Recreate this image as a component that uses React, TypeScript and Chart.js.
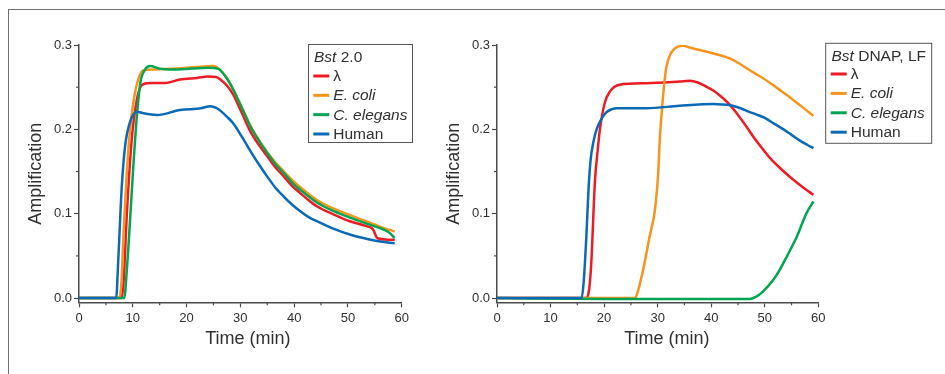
import React, { useEffect, useRef } from 'react';
import { Chart, registerables } from 'chart.js';

Chart.register(...registerables);

const FONT = '"Liberation Sans", Arial, Helvetica, sans-serif';
const AXIS_COLOR = '#4a4a4a';
const TEXT_COLOR = '#303030';

const X_TICKS = [0, 10, 20, 30, 40, 50, 60];
const X_MINOR = [5, 15, 25, 35, 45, 55];
const Y_TICKS = [0, 0.1, 0.2, 0.3];
const Y_MINOR = [0.05, 0.15, 0.25];

const SERIES_NAMES = ['λ', 'E. coli', 'C. elegans', 'Human'];
const SERIES_ITALIC = [false, true, true, false];
const COLORS = ['#ED1C24', '#F7941D', '#00A651', '#0A6AB5'];

// ---- Bst 2.0 panel ----
const BST20_LAMBDA_T = [0, 7.9, 8.3, 8.9, 9.8, 10.75, 11.7, 13.2, 16, 18.8, 22, 24, 25.5, 26.5, 27.5, 28.7, 30.3, 31.9, 33.5, 35, 36.5, 38.1, 39.6, 41.2, 42.7, 44.3, 47.4, 50.5, 53.6, 54.6, 55.5, 58.7];
const BST20_LAMBDA_V = [0, 0, 0.02, 0.1, 0.1875, 0.235, 0.2527, 0.255, 0.255, 0.259, 0.261, 0.2626, 0.262, 0.258, 0.252, 0.241, 0.219, 0.197, 0.181, 0.168, 0.155, 0.144, 0.133, 0.124, 0.116, 0.1085, 0.099, 0.0908, 0.085, 0.082, 0.071, 0.069];

const BST20_ECOLI_T = [0, 7.5, 7.9, 8.3, 8.9, 9.5, 10.1, 11, 12, 14, 18, 22, 25, 26, 27.5, 28.7, 30.3, 31.9, 33.5, 35, 36.5, 38.1, 39.6, 41.2, 44.3, 47.4, 50.5, 53.6, 56.7, 58.7];
const BST20_ECOLI_V = [0, 0, 0.02, 0.08, 0.15, 0.2, 0.232, 0.259, 0.27, 0.271, 0.272, 0.274, 0.275, 0.272, 0.261, 0.247, 0.226, 0.204, 0.187, 0.173, 0.161, 0.15, 0.14, 0.131, 0.116, 0.106, 0.098, 0.0905, 0.083, 0.079];

const BST20_CELEGANS_T = [0, 8.4, 8.9, 9.5, 10.1, 10.75, 11.4, 12.3, 13.2, 15, 17, 21, 24, 25.8, 27.3, 28.7, 30.3, 31.9, 33.5, 35, 36.5, 38.1, 39.6, 41.2, 44.3, 47.4, 50.5, 53.6, 56.7, 57.8, 58.7];
const BST20_CELEGANS_V = [0, 0, 0.034, 0.093, 0.156, 0.215, 0.255, 0.271, 0.275, 0.272, 0.271, 0.272, 0.273, 0.272, 0.262, 0.247, 0.225, 0.203, 0.186, 0.172, 0.159, 0.148, 0.137, 0.128, 0.113, 0.103, 0.095, 0.088, 0.081, 0.077, 0.071];

const BST20_HUMAN_T = [0, 6.9, 7.33, 7.95, 8.57, 9.5, 10.75, 12, 14.5, 18.8, 22.7, 24.4, 25.5, 26.5, 27.5, 28.7, 30.3, 31.9, 33.5, 35, 36.5, 38.1, 39.6, 41.2, 42.7, 44.3, 47.4, 50.5, 53.6, 56, 58.7];
const BST20_HUMAN_V = [0, 0, 0.049, 0.132, 0.18, 0.209, 0.221, 0.219, 0.217, 0.223, 0.225, 0.2275, 0.2255, 0.221, 0.215, 0.207, 0.191, 0.174, 0.158, 0.144, 0.131, 0.12, 0.111, 0.1026, 0.096, 0.091, 0.082, 0.075, 0.07, 0.067, 0.065];

// ---- Bst DNAP, LF panel ----
const LF_LAMBDA_T = [0, 16.7, 17.2, 17.6, 18.3, 18.8, 19.2, 20.1, 21.1, 22.9, 27.9, 34.1, 36, 37.5, 39, 40.4, 42, 43.5, 45, 46.6, 48, 49.7, 51, 52.8, 54.5, 56, 57.5, 59.1];
const LF_LAMBDA_V = [0, 0, 0.01, 0.041, 0.14, 0.175, 0.199, 0.231, 0.245, 0.253, 0.2547, 0.2567, 0.2575, 0.2555, 0.251, 0.246, 0.238, 0.229, 0.217, 0.203, 0.19, 0.176, 0.166, 0.1545, 0.1448, 0.137, 0.1295, 0.1224];

const LF_ECOLI_T = [0, 25.8, 26.3, 27.3, 28.5, 29.5, 30.1, 30.4, 30.9, 31.3, 31.65, 32.3, 32.9, 33.8, 34.8, 36, 37.3, 40.4, 43.5, 45, 46.6, 48, 49.7, 51.2, 52.8, 54.5, 56, 57.5, 59.1];
const LF_ECOLI_V = [0, 0, 0.008, 0.034, 0.073, 0.105, 0.148, 0.188, 0.231, 0.258, 0.2745, 0.288, 0.294, 0.298, 0.299, 0.297, 0.295, 0.29, 0.284, 0.279, 0.2725, 0.267, 0.2606, 0.254, 0.2468, 0.239, 0.2315, 0.224, 0.216];

const LF_CELEGANS_T = [0, 20, 47.2, 48.5, 49.7, 51.6, 52.8, 54.1, 56, 57.8, 59.1];
const LF_CELEGANS_V = [0, -0.001, -0.001, 0.002, 0.008, 0.0217, 0.0335, 0.049, 0.073, 0.1007, 0.1145];

const LF_HUMAN_T = [0, 15.8, 16.2, 16.7, 17.1, 17.5, 18, 18.6, 19.3, 20.4, 21.5, 22.3, 27.9, 34.1, 40.4, 42, 44, 45.5, 47, 48.5, 50, 51.8, 53.5, 55, 56.5, 58, 59.1];
const LF_HUMAN_V = [0, 0, 0.02, 0.075, 0.13, 0.165, 0.185, 0.2, 0.21, 0.22, 0.224, 0.225, 0.225, 0.228, 0.23, 0.2295, 0.228, 0.225, 0.221, 0.2175, 0.2135, 0.2065, 0.2, 0.1935, 0.187, 0.1815, 0.1777];

type Series = { t: number[]; v: number[] };
type LegendCfg = {
  box: [number, number, number, number];
  titleParts: { text: string; italic: boolean }[];
  titleX: number;
  titleY: number;
  lineX0: number;
  lineX1: number;
  textX: number;
  rowY0: number;
  rowStep: number;
};

const PANEL1_SERIES: Series[] = [
  { t: BST20_LAMBDA_T, v: BST20_LAMBDA_V },
  { t: BST20_ECOLI_T, v: BST20_ECOLI_V },
  { t: BST20_CELEGANS_T, v: BST20_CELEGANS_V },
  { t: BST20_HUMAN_T, v: BST20_HUMAN_V },
];
const PANEL2_SERIES: Series[] = [
  { t: LF_LAMBDA_T, v: LF_LAMBDA_V },
  { t: LF_ECOLI_T, v: LF_ECOLI_V },
  { t: LF_CELEGANS_T, v: LF_CELEGANS_V },
  { t: LF_HUMAN_T, v: LF_HUMAN_V },
];

const decorPlugin = {
  id: 'decor',
  afterDraw(chart: any, _args: any, opts: any) {
    const ctx = chart.ctx as CanvasRenderingContext2D;
    const { left, right, bottom } = chart.chartArea;
    const xs = chart.scales.x;
    const ys = chart.scales.y;
    ctx.save();
    // minor ticks
    ctx.strokeStyle = AXIS_COLOR;
    ctx.lineWidth = 1.2;
    X_MINOR.forEach((v) => {
      const px = xs.getPixelForValue(v);
      ctx.beginPath();
      ctx.moveTo(px, bottom);
      ctx.lineTo(px, bottom + 3);
      ctx.stroke();
    });
    Y_MINOR.forEach((v) => {
      const py = ys.getPixelForValue(v);
      ctx.beginPath();
      ctx.moveTo(left, py);
      ctx.lineTo(left - 3, py);
      ctx.stroke();
    });
    // x title
    ctx.fillStyle = TEXT_COLOR;
    ctx.font = `18px ${FONT}`;
    ctx.textAlign = 'center';
    ctx.textBaseline = 'alphabetic';
    ctx.fillText('Time (min)', (left + right) / 2 + opts.xTitleShift, opts.xTitleY);
    // legend
    const lg: LegendCfg = opts.legend;
    const [bx, by, bw, bh] = lg.box;
    ctx.fillStyle = '#ffffff';
    ctx.fillRect(bx, by, bw, bh);
    ctx.strokeStyle = '#555555';
    ctx.lineWidth = 1;
    ctx.strokeRect(bx, by, bw, bh);
    ctx.textAlign = 'left';
    ctx.fillStyle = TEXT_COLOR;
    let tx = lg.titleX;
    lg.titleParts.forEach((p) => {
      ctx.font = `${p.italic ? 'italic ' : ''}15.5px ${FONT}`;
      ctx.fillText(p.text, tx, lg.titleY);
      tx += ctx.measureText(p.text).width;
    });
    SERIES_NAMES.forEach((name, i) => {
      const y = lg.rowY0 + i * lg.rowStep;
      ctx.strokeStyle = COLORS[i];
      ctx.lineWidth = 3;
      ctx.beginPath();
      ctx.moveTo(lg.lineX0, y);
      ctx.lineTo(lg.lineX1, y);
      ctx.stroke();
      ctx.fillStyle = TEXT_COLOR;
      ctx.font = `${SERIES_ITALIC[i] ? 'italic ' : ''}15.5px ${FONT}`;
      ctx.fillText(name, lg.textX, y + 5);
    });
    ctx.restore();
  },
};

function Panel(props: {
  left: number;
  width: number;
  plotRight: number;
  series: Series[];
  legend: LegendCfg;
  xTitleShift: number;
}) {
  const ref = useRef<HTMLCanvasElement>(null);
  const { left, width, plotRight, series, legend, xTitleShift } = props;
  useEffect(() => {
    const canvas = ref.current;
    if (!canvas) return;
    const chart = new Chart(canvas, {
      type: 'line',
      data: {
        datasets: series.map((s, i) => ({
          label: SERIES_NAMES[i],
          data: s.t.map((t, k) => ({ x: t, y: s.v[k] })),
          borderColor: COLORS[i],
          backgroundColor: COLORS[i],
          borderWidth: 2.5,
          pointRadius: 0,
          fill: false,
          cubicInterpolationMode: 'monotone' as const,
          order: 3 - i,
        })),
      },
      options: {
        animation: false,
        responsive: false,
        maintainAspectRatio: false,
        layout: { padding: { left: 0, top: 45, right: width - plotRight, bottom: 21.7 } },
        plugins: {
          legend: { display: false },
          tooltip: { enabled: false },
          decor: { legend, xTitleShift, xTitleY: 343.5 },
        } as any,
        scales: {
          x: {
            type: 'linear',
            min: 0,
            max: 60,
            afterBuildTicks: (s: any) => {
              s.ticks = X_TICKS.map((value) => ({ value }));
            },
            afterFit: (s: any) => {
              s.height = 50;
            },
            ticks: {
              font: { size: 13, family: FONT },
              color: TEXT_COLOR,
              padding: 3,
              maxRotation: 0,
              autoSkip: false,
              callback: (v: any) => String(v),
            },
            grid: {
              display: true,
              drawOnChartArea: false,
              drawTicks: true,
              tickLength: 5,
              tickColor: AXIS_COLOR,
              tickWidth: 1.2,
            },
            border: { display: true, color: AXIS_COLOR, width: 1.5 },
          },
          y: {
            type: 'linear',
            min: -0.005,
            max: 0.3,
            afterBuildTicks: (s: any) => {
              s.ticks = Y_TICKS.map((value) => ({ value }));
            },
            afterFit: (s: any) => {
              s.width = 79;
            },
            ticks: {
              font: { size: 13, family: FONT },
              color: TEXT_COLOR,
              padding: 2,
              autoSkip: false,
              callback: (v: any) => Number(v).toFixed(1),
            },
            grid: {
              display: true,
              drawOnChartArea: false,
              drawTicks: true,
              tickLength: 5,
              tickColor: AXIS_COLOR,
              tickWidth: 1.2,
            },
            border: { display: true, color: AXIS_COLOR, width: 1.5 },
            title: {
              display: true,
              text: 'Amplification',
              color: TEXT_COLOR,
              font: { size: 18, family: FONT },
              padding: { top: 25.7, bottom: 0 },
            },
          },
        },
      },
      plugins: [decorPlugin],
    } as any);
    return () => chart.destroy();
  }, []);
  return (
    <canvas
      ref={ref}
      width={width}
      height={374}
      style={{ position: 'absolute', left, top: 0, width, height: 374 }}
    />
  );
}

const LEGEND1: LegendCfg = {
  box: [308.5, 44.5, 104, 98],
  titleParts: [
    { text: 'Bst', italic: true },
    { text: ' 2.0', italic: false },
  ],
  titleX: 314,
  titleY: 61.7,
  lineX0: 313.3,
  lineX1: 329.3,
  textX: 333.3,
  rowY0: 76,
  rowStep: 19.33,
};

const LEGEND2: LegendCfg = {
  box: [407.7, 43.3, 106, 100],
  titleParts: [
    { text: 'Bst', italic: true },
    { text: ' DNAP, LF', italic: false },
  ],
  titleX: 413.5,
  titleY: 60.5,
  lineX0: 412.7,
  lineX1: 428.7,
  textX: 432.7,
  rowY0: 74,
  rowStep: 19.4,
};

export default function App() {
  return (
    <div
      style={{
        position: 'absolute',
        left: 0,
        top: 0,
        width: 945,
        height: 374,
        background: '#ffffff',
        overflow: 'hidden',
      }}
    >
      <div
        style={{
          position: 'absolute',
          left: 8,
          top: 9,
          width: 960,
          height: 400,
          borderTop: '1px solid #707070',
          borderLeft: '1px solid #707070',
        }}
      />
      <Panel left={0} width={470} plotRight={401.7} series={PANEL1_SERIES} legend={LEGEND1} xTitleShift={7.6} />
      <Panel left={418} width={527} plotRight={400.3} series={PANEL2_SERIES} legend={LEGEND2} xTitleShift={9.2} />
    </div>
  );
}
